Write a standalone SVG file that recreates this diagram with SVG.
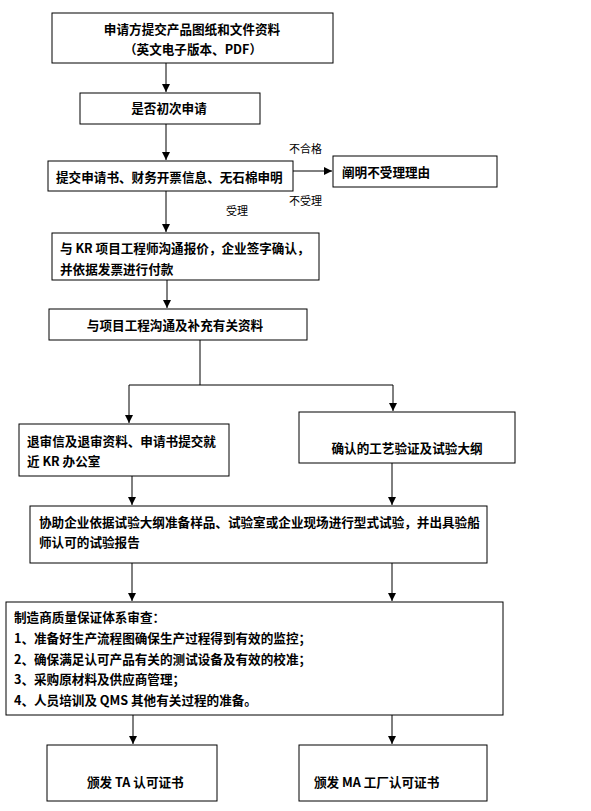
<svg xmlns="http://www.w3.org/2000/svg" width="591" height="811" viewBox="0 0 591 811">
<style>
.box{fill:#fff;stroke:#000;stroke-width:1}
.t{font-family:"Noto Sans CJK SC","Liberation Sans",sans-serif;font-weight:bold;font-size:12.6px;fill:#000}
.c{text-anchor:middle}
.lbl{font-family:"Noto Sans CJK SC","Liberation Sans",sans-serif;font-size:11px;fill:#000}
.ln{stroke:#000;stroke-width:1;fill:none}
</style>
<defs>
<marker id="ah" markerUnits="userSpaceOnUse" markerWidth="8" markerHeight="8" refX="8" refY="4" orient="auto">
<path d="M0,0 L8,4 L0,8 z" fill="#000"/>
</marker>
</defs>
<rect width="591" height="811" fill="#fff"/>
<g id="connectors">
<line class="ln" x1="166" y1="63" x2="166" y2="92" marker-end="url(#ah)"/>
<line class="ln" x1="166" y1="124" x2="166" y2="160" marker-end="url(#ah)"/>
<line class="ln" x1="293" y1="171" x2="332" y2="171" marker-end="url(#ah)"/>
<line class="ln" x1="166" y1="191" x2="166" y2="232" marker-end="url(#ah)"/>
<line class="ln" x1="167" y1="280" x2="167" y2="308" marker-end="url(#ah)"/>
<polyline class="ln" points="200,340 200,385"/>
<polyline class="ln" points="129,385 393,385"/>
<line class="ln" x1="129" y1="385" x2="129" y2="423" marker-end="url(#ah)"/>
<line class="ln" x1="393" y1="385" x2="393" y2="411" marker-end="url(#ah)"/>
<line class="ln" x1="132" y1="476" x2="132" y2="505" marker-end="url(#ah)"/>
<line class="ln" x1="392" y1="463" x2="392" y2="505" marker-end="url(#ah)"/>
<line class="ln" x1="132" y1="563" x2="132" y2="601" marker-end="url(#ah)"/>
<line class="ln" x1="392" y1="563" x2="392" y2="601" marker-end="url(#ah)"/>
<line class="ln" x1="133" y1="715" x2="133" y2="744" marker-end="url(#ah)"/>
<line class="ln" x1="392" y1="715" x2="392" y2="744" marker-end="url(#ah)"/>
<text class="lbl" x="289" y="153">不合格</text>
<text class="lbl" x="289" y="205">不受理</text>
<text class="lbl" x="226" y="215">受理</text>
</g>
<g id="n1">
<rect class="box" x="52" y="13" width="281" height="50"/>
<text class="t c" x="192" y="34">申请方提交产品图纸和文件资料</text>
<text class="t c" x="193" y="54">（英文电子版本、PDF）</text>
</g>
<g id="n2">
<rect class="box" x="80" y="93" width="180" height="31"/>
<text class="t c" x="169" y="113">是否初次申请</text>
</g>
<g id="n3">
<rect class="box" x="48" y="161" width="245" height="30"/>
<text class="t" x="56" y="182">提交申请书、财务开票信息、无石棉申明</text>
</g>
<g id="n4">
<rect class="box" x="333" y="156" width="164" height="31"/>
<text class="t" x="342" y="177">阐明不受理理由</text>
</g>
<g id="n5">
<rect class="box" x="52" y="233" width="267" height="47"/>
<text class="t" x="60" y="253">与 KR 项目工程师沟通报价，企业签字确认，</text>
<text class="t" x="60" y="274">并依据发票进行付款</text>
</g>
<g id="n6">
<rect class="box" x="49" y="309" width="258" height="31"/>
<text class="t c" x="175" y="330">与项目工程沟通及补充有关资料</text>
</g>
<g id="n7">
<rect class="box" x="19" y="424" width="210" height="52"/>
<text class="t" x="27" y="446">退审信及退审资料、申请书提交就</text>
<text class="t" x="27" y="466">近 KR 办公室</text>
</g>
<g id="n8">
<rect class="box" x="299" y="412" width="216" height="51"/>
<text class="t c" x="407" y="453">确认的工艺验证及试验大纲</text>
</g>
<g id="n9">
<rect class="box" x="30" y="506" width="457" height="57"/>
<text class="t" x="39" y="527">协助企业依据试验大纲准备样品、试验室或企业现场进行型式试验，并出具验船</text>
<text class="t" x="39" y="547">师认可的试验报告</text>
</g>
<g id="n10">
<rect class="box" x="6" y="602" width="497" height="113"/>
<text class="t" x="14" y="622">制造商质量保证体系审查：</text>
<text class="t" x="14" y="643">1、准备好生产流程图确保生产过程得到有效的监控；</text>
<text class="t" x="14" y="664">2、确保满足认可产品有关的测试设备及有效的校准；</text>
<text class="t" x="14" y="684">3、采购原材料及供应商管理；</text>
<text class="t" x="14" y="705">4、人员培训及 QMS 其他有关过程的准备。</text>
</g>
<g id="n11">
<rect class="box" x="47" y="745" width="170" height="56"/>
<text class="t" x="87" y="787">颁发 TA 认可证书</text>
</g>
<g id="n12">
<rect class="box" x="299" y="745" width="188" height="56"/>
<text class="t" x="314" y="787">颁发 MA 工厂认可证书</text>
</g>
</svg>
